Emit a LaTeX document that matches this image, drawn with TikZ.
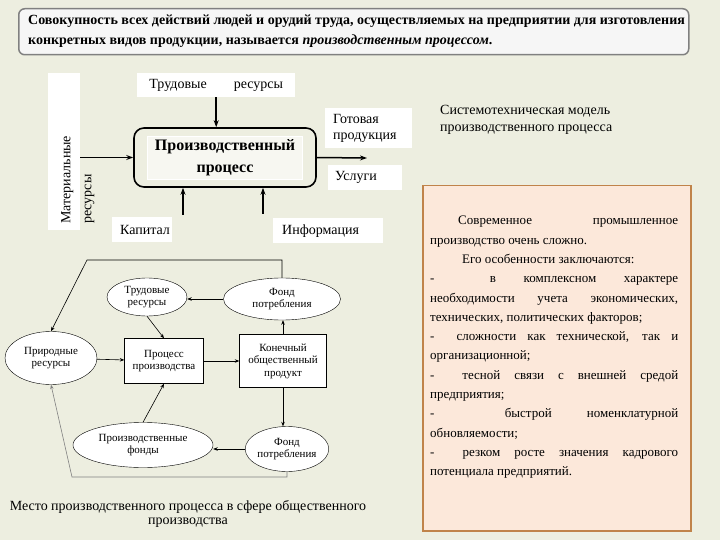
\documentclass[tikz,border=0pt]{standalone}
\usepackage{fontspec}
\setmainfont{Liberation Serif}
\usetikzlibrary{shapes.geometric,arrows.meta,positioning}
\definecolor{bgc}{HTML}{EDEEE0}
\definecolor{peach}{HTML}{FCE8DA}
\definecolor{brownish}{HTML}{C0834A}

\begin{document}
\begin{tikzpicture}[x=1pt,y=-1pt,
  tag/.style={rectangle, fill=white, inner sep=0pt, font=\fontsize{14}{16}\selectfont},
  oval/.style={ellipse, draw, fill=white, inner sep=0pt, align=center, font=\fontsize{11}{12.5}\selectfont},
  blk/.style={rectangle, draw, fill=white, inner sep=0pt, align=center, font=\fontsize{11}{12.5}\selectfont},
  arrow/.style={-{Stealth[length=7pt,width=5pt]}, line width=1.5pt},
  link/.style={-{Stealth[length=4.5pt,width=3.5pt]}, line width=0.6pt}
]
\fill[bgc] (0,0) rectangle (720,540);
\useasboundingbox (0,0) rectangle (720,540);

% Definition
\node[rectangle, rounded corners=6pt, draw=gray, line width=1.5pt, fill=white!93!gray,
  minimum width=670, minimum height=46, anchor=north west] (defn) at (18,8) {};
\node[anchor=west, inner sep=0pt, align=left, font=\bfseries\fontsize{14}{20}\selectfont] (deftext) at (28,31)
  {Совокупность всех действий людей и орудий труда, осуществляемых на предприятии для изготовления\\
   конкретных видов продукции, называется \textit{производственным процессом}.};

% Systems model
\node[tag, minimum width=157, minimum height=32, rotate=90] (mat) at (64,151.5) {};
\node[rotate=90, anchor=north west, inner sep=0pt, align=left, font=\fontsize{14}{21}\selectfont] (mattext) at (61,224)
  {Материальные\\ресурсы};
\node[tag, minimum width=158, minimum height=24, anchor=north west] (trud) at (137,73) {Трудовые\hspace{27pt}ресурсы};
\node[rectangle, rounded corners=10pt, draw, line width=1.6pt, fill=bgc,
  minimum width=182, minimum height=59] (proc) at (225,157.5) {};
\node[rectangle, fill=white!55!bgc, draw=white, minimum width=155, minimum height=43, inner sep=0pt, align=center,
  font=\bfseries\fontsize{16}{22}\selectfont] (proctext) at (proc) {Производственный\\процесс};
\node[tag, minimum width=87, minimum height=40, anchor=north west, align=left, text width=71] (ready) at (325,108) {Готовая\\продукция};
\node[tag, minimum width=74, minimum height=25, anchor=north west, align=left, text width=60] (serv) at (328,165) {Услуги};
\node[tag, minimum width=60, minimum height=25, anchor=north west, align=left, text width=44] (cap) at (112,217) {Капитал};
\node[tag, minimum width=110, minimum height=25, anchor=north west, align=left, text width=92] (info) at (273,218) {Информация};
\coordinate (outp) at (367,158);
\coordinate (capin) at (183,215);
\coordinate (infoin) at (263,214);

\draw[arrow] (mat.south |- proc.west) -- (proc.west);
\draw[arrow] (trud.south) -- (trud.south |- proc.north);
\draw[arrow] (proc.east) -- (outp);
\draw[arrow] (capin) -- (capin |- proc.south);
\draw[arrow] (infoin) -- (infoin |- proc.south);

\node[anchor=north west, align=left, inner sep=0pt, font=\fontsize{14}{17}\selectfont] (model) at (440,105)
  {Системотехническая модель\\производственного процесса};

% Features
\node[rectangle, draw=brownish, line width=1.5pt, fill=peach, minimum width=268, minimum height=345,
  anchor=north west] (featbox) at (422,185) {};
\node[anchor=north west, inner sep=0pt, text width=248, align=justify, font=\fontsize{13}{19.3}\selectfont] (feat) at (430,216)
  {\hspace*{28pt}Современное промышленное\linebreak производство очень сложно.\par
   \hspace*{32pt}Его особенности заключаются:\par
   -\ \ в комплексном характере\linebreak необходимости учета экономических,\linebreak технических, политических факторов;\par
   -\ \ сложности как технической, так и\linebreak организационной;\par
   -\ \ тесной связи с внешней средой\linebreak предприятия;\par
   -\ \ быстрой номенклатурной\linebreak обновляемости;\par
   -\ \ резком росте значения кадрового\linebreak потенциала предприятий.};

% Social production
\node[oval, minimum width=80, minimum height=38] (trud2) at (147,297) {Трудовые\\ресурсы};
\node[oval, minimum width=117, minimum height=42] (fond1) at (282,299) {Фонд\\потребления};
\node[oval, minimum width=92, minimum height=53] (prir) at (51,358) {Природные\\ресурсы};
\node[blk, minimum width=79, minimum height=45] (proizv) at (164,361) {Процесс\\производства};
\node[blk, minimum width=87, minimum height=53] (kon) at (283,361) {Конечный\\общественный\\продукт};
\node[oval, minimum width=140, minimum height=45] (pfond) at (143,445) {Производственные\\фонды};
\node[oval, minimum width=80, minimum height=45] (fond2) at (287,449) {Фонд\\потребления};
\coordinate (loopa) at (87,260);
\coordinate (loopb) at (72,477);

\draw[link] (fond1.west) -- (fond1.west -| trud2.east);
\draw[link] (trud2.south) -- (proizv.north);
\draw[link] (prir) -- (proizv);
\draw[link] (proizv) -- (kon);
\draw[link] (kon.north) -- (kon.north |- fond1.south);
\draw[link] (kon.south) -- (kon.south |- fond2.north);
\draw[link] (fond2.west) -- (fond2.west -| pfond.east);
\draw[link] (pfond.north) -- (proizv.south);
\draw[link] (fond1.north) |- (loopa) -- (prir.north);
\draw[link, draw=gray] (fond2.south) |- (loopb) -- (prir.south);

\node[align=center, inner sep=0pt, font=\fontsize{14}{14}\selectfont] (caption) at (188,514)
  {Место производственного процесса в сфере общественного\\производства};
\end{tikzpicture}
\end{document}
